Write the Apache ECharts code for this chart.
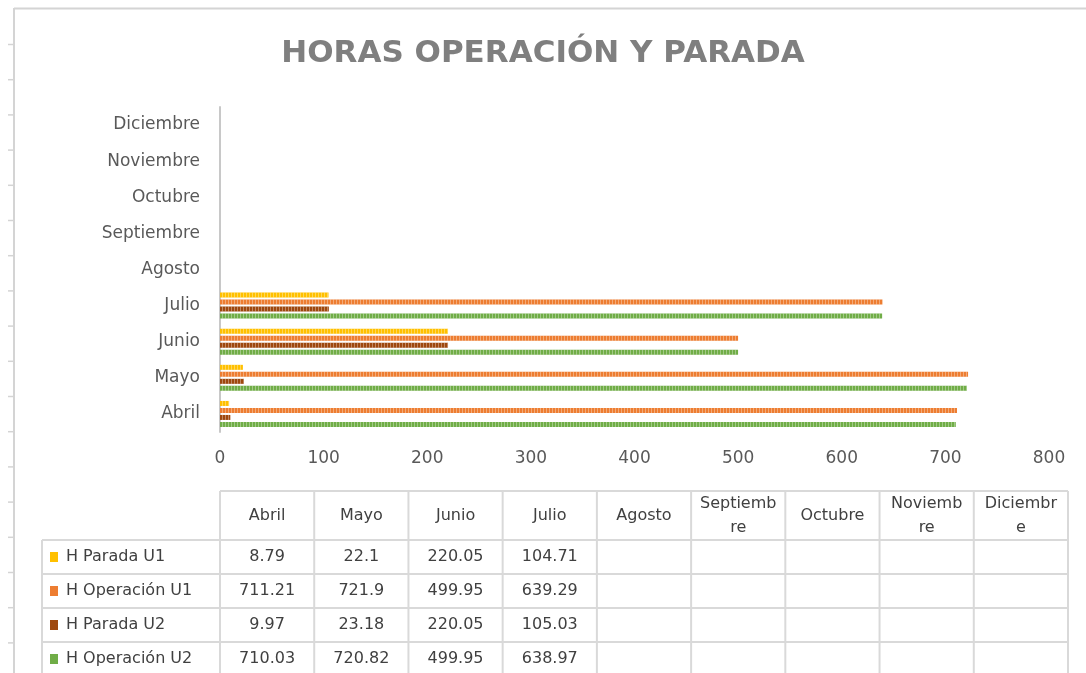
<!DOCTYPE html>
<html lang="es">
<head>
    <meta charset="UTF-8">
    <title>Horas operación y parada</title>
    <script src="https://cdn.jsdelivr.net/npm/echarts@6.0.0/dist/echarts.min.js"></script>
    <style>
        * {
            margin: 0;
            padding: 0;
            box-sizing: border-box;
        }

        body {
            background: #ffffff;
        }

        #chart-container {
            width: 1086px;
            height: 673px;
        }
    </style>
</head>
<body>
<div id="chart-container"></div>

<script>
    // datos del gráfico
    const months = ['Abril', 'Mayo', 'Junio', 'Julio', 'Agosto', 'Septiembre', 'Octubre', 'Noviembre', 'Diciembre'];
    const tableHeads = ['Abril', 'Mayo', 'Junio', 'Julio', 'Agosto', 'Septiemb\nre', 'Octubre', 'Noviemb\nre', 'Diciembr\ne'];
    const seriesNames = ['H Parada U1', 'H Operación U1', 'H Parada U2', 'H Operación U2'];
    const paradaU1 = [8.79, 22.1, 220.05, 104.71, null, null, null, null, null];
    const operacionU1 = [711.21, 721.9, 499.95, 639.29, null, null, null, null, null];
    const paradaU2 = [9.97, 23.18, 220.05, 105.03, null, null, null, null, null];
    const operacionU2 = [710.03, 720.82, 499.95, 638.97, null, null, null, null, null];
    const xTicks = [0, 100, 200, 300, 400, 500, 600, 700, 800];

    const colors = ['#ffc000', '#ed7d31', '#9e480e', '#70ad47'];
    const allValues = [paradaU1, operacionU1, paradaU2, operacionU2];

    const fontName = 'DejaVu Sans';
    const lineColor = '#d9d9d9';

    let chartDom = document.getElementById('chart-container');
    let myChart = echarts.init(chartDom, null, {renderer: 'canvas'});

    // tabla de datos (debajo del gráfico)
    function buildTable() {
        let items = [];
        const x0 = 42, x1 = 220, x2 = 1068;
        const colW = (x2 - x1) / months.length;
        const headTop = 491, headBottom = 540, rowH = 34;
        const bottom = 673;

        const line = (ax, ay, bx, by) => ({
            type: 'line',
            shape: {x1: ax, y1: ay, x2: bx, y2: by},
            style: {stroke: lineColor, lineWidth: 2},
            silent: true
        });

        // líneas horizontales
        items.push(line(x1, headTop, x2, headTop));
        for (let r = 0; r < allValues.length; r++) {
            let y = headBottom + r * rowH;
            items.push(line(x0, y, x2, y));
        }
        // líneas verticales
        items.push(line(x0, headBottom, x0, bottom));
        for (let c = 0; c <= months.length; c++) {
            let x = x1 + c * colW;
            items.push(line(x, headTop, x, bottom));
        }

        // cabecera
        tableHeads.forEach(function (h, c) {
            items.push({
                type: 'text',
                x: x1 + (c + 0.5) * colW,
                y: (headTop + headBottom) / 2,
                style: {
                    text: h,
                    fill: '#404040',
                    font: '16px "' + fontName + '"',
                    align: 'center',
                    verticalAlign: 'middle',
                    lineHeight: 24
                },
                silent: true
            });
        });

        // filas
        allValues.forEach(function (vals, r) {
            let cy = headBottom + (r + 0.5) * rowH;
            items.push({
                type: 'rect',
                shape: {x: 50, y: cy - 5, width: 8, height: 10},
                style: {fill: colors[r]},
                silent: true
            });
            items.push({
                type: 'text',
                x: 66,
                y: cy,
                style: {
                    text: seriesNames[r],
                    fill: '#404040',
                    font: '16px "' + fontName + '"',
                    align: 'left',
                    verticalAlign: 'middle'
                },
                silent: true
            });
            vals.forEach(function (v, c) {
                if (v === null) return;
                items.push({
                    type: 'text',
                    x: x1 + (c + 0.5) * colW,
                    y: cy,
                    style: {
                        text: String(v),
                        fill: '#404040',
                        font: '16px "' + fontName + '"',
                        align: 'center',
                        verticalAlign: 'middle'
                    },
                    silent: true
                });
            });
        });
        return items;
    }

    // borde de la hoja
    function buildFrame() {
        let items = [];
        items.push({
            type: 'line',
            shape: {x1: 14, y1: 8.5, x2: 1086, y2: 8.5},
            style: {stroke: '#d4d4d4', lineWidth: 2},
            silent: true
        });
        items.push({
            type: 'line',
            shape: {x1: 14, y1: 8, x2: 14, y2: 673},
            style: {stroke: '#d4d4d4', lineWidth: 2},
            silent: true
        });
        for (let y = 44.5; y < 673; y += 35.2) {
            items.push({
                type: 'line',
                shape: {x1: 8, y1: y, x2: 14, y2: y},
                style: {stroke: '#d4d4d4', lineWidth: 1.5},
                silent: true
            });
        }
        return items;
    }

    function createSeries(idx) {
        return {
            name: seriesNames[idx],
            type: 'bar',
            data: allValues[idx],
            barWidth: 5,
            barGap: '40%',
            itemStyle: {
                color: colors[idx],
                // textura punteada como en el original
                decal: {
                    symbol: 'rect',
                    symbolSize: 1,
                    dashArrayX: [[1, 2]],
                    dashArrayY: [10, 0],
                    rotation: 0,
                    color: 'rgba(255,255,255,0.35)'
                }
            },
            animation: false
        };
    }

    let option = {
        backgroundColor: '#ffffff',
        animation: false,
        title: {
            text: 'HORAS OPERACIÓN Y PARADA',
            left: 'center',
            top: 33,
            textStyle: {
                color: '#7f7f7f',
                fontFamily: fontName,
                fontWeight: 'bold',
                fontSize: 31
            }
        },
        grid: {
            left: 220,
            right: 37,
            top: 107,
            bottom: 241,
            containLabel: false
        },
        xAxis: {
            type: 'value',
            min: xTicks[0],
            max: xTicks[xTicks.length - 1],
            interval: xTicks[1] - xTicks[0],
            axisLine: {show: false},
            axisTick: {show: false},
            splitLine: {show: false},
            axisLabel: {
                color: '#595959',
                fontFamily: fontName,
                fontSize: 17,
                margin: 18
            }
        },
        yAxis: {
            type: 'category',
            data: months,
            axisLine: {show: true, lineStyle: {color: '#c8c8c8', width: 2}},
            axisTick: {show: false},
            axisLabel: {
                color: '#595959',
                fontFamily: fontName,
                fontSize: 17,
                margin: 20
            }
        },
        series: allValues.map(function (v, i) {
            return createSeries(i);
        }),
        graphic: buildFrame().concat(buildTable())
    };

    myChart.setOption(option);
</script>
</body>
</html>
